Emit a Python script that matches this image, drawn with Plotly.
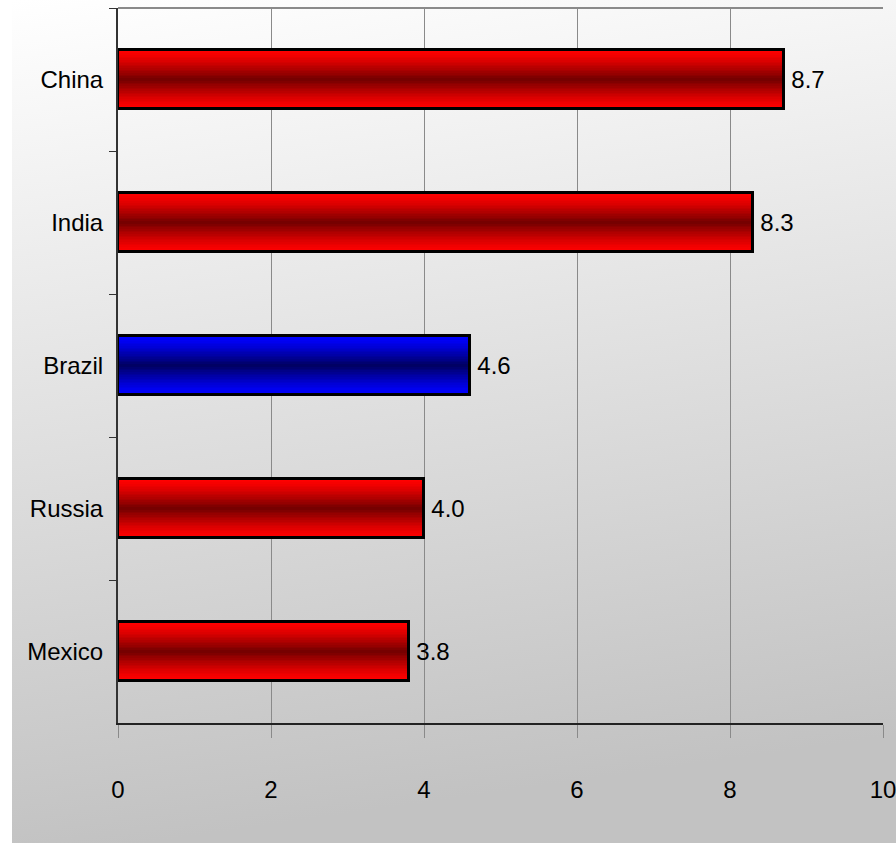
import base64
import plotly.graph_objects as go

# ---- data ----
countries = ["China", "India", "Brazil", "Russia", "Mexico"]
values = [8.7, 8.3, 4.6, 4.0, 3.8]
highlight = "Brazil"
x_ticks = [0, 2, 4, 6, 8, 10]

# ---- style ----
FONT = "Liberation Sans Narrow, Arial Narrow, Liberation Sans, Arial, sans-serif"
FS = 24
W, H = 896, 844
ML, MR, MT, MB = 118, 13, 8, 121
BAR_W = 0.41
N_LAYERS = 18

red_edge, red_mid = (255, 0, 0), (118, 0, 0)
blue_edge, blue_mid = (0, 0, 255), (0, 0, 100)


def mix(a, b, t):
    return "rgb(%d,%d,%d)" % tuple(round(a[k] + (b[k] - a[k]) * t) for k in range(3))


fig = go.Figure()
for i in range(N_LAYERS):
    t = (i / (N_LAYERS - 1)) ** 1.3
    cols = [mix(blue_edge, blue_mid, t) if c == highlight else mix(red_edge, red_mid, t)
            for c in countries]
    fig.add_trace(go.Bar(
        y=countries, x=values, orientation="h",
        width=BAR_W * (1 - i / N_LAYERS),
        marker=dict(color=cols, line=dict(width=0)),
        hoverinfo="skip", showlegend=False,
    ))

# outline + value labels
fig.add_trace(go.Bar(
    y=countries, x=values, orientation="h", width=BAR_W,
    marker=dict(color="rgba(0,0,0,0)", line=dict(color="black", width=3)),
    text=[f"\u2009{v:.1f}" for v in values], textposition="outside",
    textfont=dict(family=FONT, size=FS, color="black"),
    cliponaxis=False, hoverinfo="skip", showlegend=False,
))

# background gradient image
svg = ('<svg xmlns="http://www.w3.org/2000/svg" width="100" height="100" preserveAspectRatio="none">'
       '<defs><linearGradient id="g" x1="0" y1="0" x2="0.15" y2="1">'
       '<stop offset="0" stop-color="#ffffff"/><stop offset="1" stop-color="#c2c2c2"/>'
       '</linearGradient></defs><rect width="100" height="100" fill="url(#g)"/></svg>')
src = "data:image/svg+xml;base64," + base64.b64encode(svg.encode()).decode()
pw, ph = W - ML - MR, H - MT - MB
img_x0, img_y0, img_x1, img_y1 = 12, 0, 896, 843
fig.add_layout_image(dict(
    source=src, xref="paper", yref="paper",
    x=(img_x0 - ML) / pw, y=1 + (MT - img_y0) / ph,
    sizex=(img_x1 - img_x0) / pw, sizey=(img_y1 - img_y0) / ph,
    sizing="stretch", xanchor="left", yanchor="top", layer="below",
))

# top border line
fig.add_shape(type="line", xref="paper", yref="paper", x0=0, x1=1, y0=1, y1=1,
              line=dict(color="#8a8a8a", width=2))

fig.update_layout(
    width=W, height=H,
    margin=dict(l=ML, r=MR, t=MT, b=MB, pad=0),
    paper_bgcolor="white", plot_bgcolor="rgba(0,0,0,0)",
    barmode="overlay", bargap=0,
    font=dict(family=FONT, size=FS, color="black"),
    xaxis=dict(range=[0, 10], tickvals=x_ticks, showgrid=True, gridcolor="#8a8a8a", gridwidth=1,
               showline=True, linecolor="#222222", linewidth=2, zeroline=False,
               ticks="outside", ticklen=13, tickcolor="#8a8a8a", tickwidth=1,
               ticklabelstandoff=31, ticklabeloverflow="allow", automargin=False,
               tickfont=dict(family=FONT, size=FS, color="black")),
    yaxis=dict(autorange="reversed", tickson="boundaries", ticks="outside", ticklen=7,
               tickcolor="#333333", tickwidth=1, showline=True, linecolor="#333333", linewidth=2,
               showgrid=False, ticklabelstandoff=8, automargin=False,
               tickfont=dict(family=FONT, size=FS, color="black")),
)

fig.write_html("out.html")
